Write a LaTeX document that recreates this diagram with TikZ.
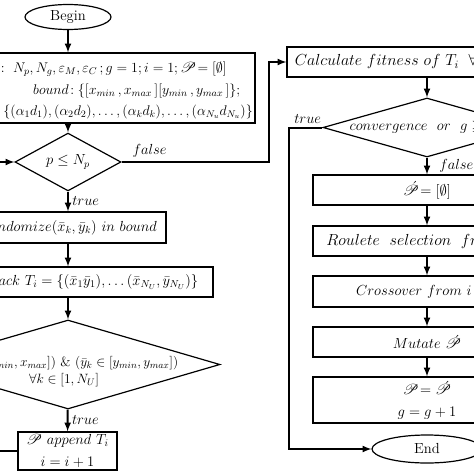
\RequirePackage{fix-cm}
\documentclass[tikz,border=0pt]{standalone}
\usepackage{amsmath,amssymb,mathrsfs}
\usetikzlibrary{arrows,shapes}
\tikzset{>=latex}

\begin{document}
\begin{tikzpicture}[x=1pt,y=-1pt,
        font=\fontsize{14.6}{21.5}\selectfont,
        box/.style={draw,line width=1.2pt,inner sep=2pt},
        term/.style={ellipse,draw,line width=1.2pt,inner sep=0pt},
        test/.style={diamond,draw,line width=1.2pt,inner sep=0pt},
        line/.style={inner sep=0pt,font=\fontsize{14}{16}\selectfont},
        flow/.style={->,line width=2pt},
        lbl/.style={font=\fontsize{14.6}{18}\selectfont}]
        \useasboundingbox (0,0) rectangle (474,474);
        \clip (0,0) rectangle (474,474);
        % left column
        \node[term,minimum width=86,minimum height=25] (begin) at (68,17) {Begin};
        \node[box,minimum width=295,minimum height=70] (init) at (107.5,88) {};
        \node[line,anchor=east] (init-a) at (227,69) {$Initialization\!:\ N_p, N_g, \varepsilon_M, \varepsilon_C\,; g = 1;i = 1;\mathscr{P}\!= [\emptyset]$};
        \node[line,anchor=west] (init-b) at (33,90.5) {$bound\!:\{[x_{min}\,, x_{max}\,][y_{min}\,, y_{max}\,]\};$};
        \node[line,anchor=east] (init-c) at (253,112) {$obstacles\!:\{(\alpha_1 d_1), (\alpha_2 d_2), \ldots, (\alpha_k d_k), \ldots, (\alpha_{N_u} d_{N_u})\}$};
        \node[test,minimum width=106,minimum height=54] (ptest) at (68,162) {$p \le N_p$};
        \node[box,minimum width=196,minimum height=31] (rand) at (68,227.5) {$Randomize(\bar{x}_k, \bar{y}_k)\ in\ bound$};
        \node[box,minimum width=290,minimum height=30] (track) at (68,282) {$Create\ track\ T_i = \{(\bar{x}_1\bar{y}_1), \ldots (\bar{x}_{N_U}, \bar{y}_{N_U})\}$};
        \node[test,minimum width=304,minimum height=89] (inbound) at (68,364.5) {};
        \node[align=center,font=\fontsize{13.5}{16.5}\selectfont] (inbound-txt) at ([xshift=-4pt,yshift=-7pt]inbound.center) {$(\bar{x}_k \in [x_{min}, x_{max}])\ \&\ (\bar{y}_k \in [y_{min}, y_{max}])$\\ $\forall k \in [1, N_U]$};
        \node[box,minimum width=99,minimum height=38,align=center] (append) at (67.5,451) {$\mathscr{P}\ append\ T_i$\\ $i = i+1$};
        % right column
        \node[box,minimum width=280,minimum height=30,font=\fontsize{16}{20}\selectfont] (fit) at (427,62) {$Calculate\ fitness\ of\ T_i\ \ \forall i\ \in\ [1,\ N_p]$};
        \node[test,minimum width=208,minimum height=59] (conv) at (427,127.5) {};
        \node (conv-txt) at (conv.center) {$convergence\ \ or\ \ g \ge N_g$};
        \node[box,minimum width=228,minimum height=30] (reset) at (427,190) {$\acute{\mathscr{P}}\!= [\emptyset]$};
        \node[box,minimum width=228,minimum height=30,font=\fontsize{16}{20}\selectfont] (select) at (427,241) {$Roulete\ \ selection\ \ from\ \ \mathscr{P}$};
        \node[box,minimum width=228,minimum height=31] (cross) at (427,291.5) {$Crossover\ from\ i = 1$};
        \node[box,minimum width=228,minimum height=30] (mutate) at (427,342) {$Mutate\ \acute{\mathscr{P}}$};
        \node[box,minimum width=228,minimum height=46,align=center] (update) at (427,400) {$\mathscr{P}\!= \acute{\mathscr{P}}$\\ $g = g+1$};
        \node[term,minimum width=110,minimum height=28] (end) at (427,449) {End};
        \coordinate (back) at (-8,451);
        \coordinate (up) at (269,62);
        \coordinate (side) at (289,127.5);
        % connectors
        \draw[flow] (begin.south) -- (begin.south |- init.north);
        \draw[flow] (init.south -| ptest) -- (ptest);
        \draw[flow] (ptest) -- node[lbl,right]{$true$} (rand);
        \draw[flow] (rand) -- (track);
        \draw[flow] (track) -- (inbound);
        \draw[flow] (inbound) -- node[lbl,right]{$true$} (append);
        \draw[flow] (append.west) -- (back) |- (ptest.west);
        \draw[flow] (ptest.east) -- node[lbl,above,pos=0.19]{$false$} (ptest.east -| up) |- (fit.west);
        \draw[flow] (fit) -- (conv);
        \draw[flow] (conv) -- node[lbl,right,xshift=8pt]{$false$} (reset);
        \draw[flow] (reset) -- (select);
        \draw[flow] (select) -- (cross);
        \draw[flow] (cross) -- (mutate);
        \draw[flow] (mutate) -- (update);
        \draw[flow] (conv.west) -- node[lbl,above,xshift=2pt]{$true$} (side) |- (end.west);
\end{tikzpicture}
\end{document}
